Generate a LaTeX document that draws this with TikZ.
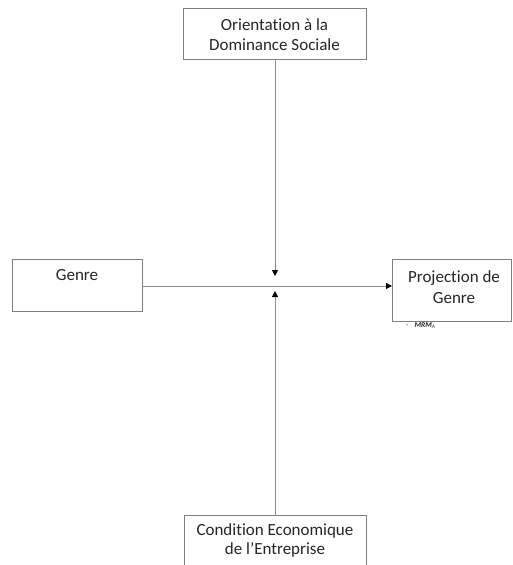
\documentclass[tikz,border=0pt]{standalone}
\usepackage{fontspec}
\setmainfont[Ligatures=NoCommon]{Carlito}
\usetikzlibrary{arrows.meta}
\definecolor{boxgray}{HTML}{7F7F7F}
\definecolor{linegray}{HTML}{8C8C8C}
\definecolor{txt}{HTML}{262626}
\begin{document}
\begin{tikzpicture}[x=1pt,y=-1pt,
  boxstyle/.style={draw=boxgray, line width=0.9pt, fill=white, inner sep=0pt, anchor=north west},
  labelstyle/.style={text=txt, font=\fontsize{17}{20}\selectfont, align=center, inner sep=0pt, anchor=base},
  conn/.style={draw=linegray, line width=0.9pt, -{Triangle[width=6pt,length=6pt,fill=black,color=black]}}
]
\useasboundingbox (0,0) rectangle (512,565);
% boxes
\node[boxstyle, minimum width=183pt, minimum height=51pt] (osd) at (183,8) {};
\node[boxstyle, minimum width=130pt, minimum height=52pt] (genre) at (12,259) {};
\node[boxstyle, minimum width=119pt, minimum height=62pt] (proj) at (392,259) {};
\node[boxstyle, minimum width=182pt, minimum height=70pt] (cond) at (184,515) {};
% texts
\node[labelstyle] (osdt1) at (274.5,30) {Orientation à la};
\node[labelstyle] (osdt2) at (274.5,50) {Dominance Sociale};
\node[labelstyle] (genret) at (77,280) {Genre};
\node[labelstyle] (projt1) at (454,282) {Projection de};
\node[labelstyle] (projt2) at (454,303) {Genre};
\node[labelstyle] (condt1) at (275,535) {Condition Economique};
\node[labelstyle] (condt2) at (275,554) {de l’Entreprise};
\node[text=txt, font=\fontsize{7.5}{8}\selectfont, inner sep=0pt, anchor=base west] (mrm) at (406,327) {-\hspace{6pt}\textit{\textbf{MRM}}\textsubscript{\textit{A}}};
% connector ends
\coordinate (tiptop) at (275,276);
\coordinate (tipbot) at (275,291);
\coordinate (hline) at (142,286);
\draw[conn] (hline) -- (hline -| proj.west);
\draw[conn] (osd.south -| tiptop) -- (tiptop);
\draw[conn] (cond.north -| tipbot) -- (tipbot);
\end{tikzpicture}
\end{document}
